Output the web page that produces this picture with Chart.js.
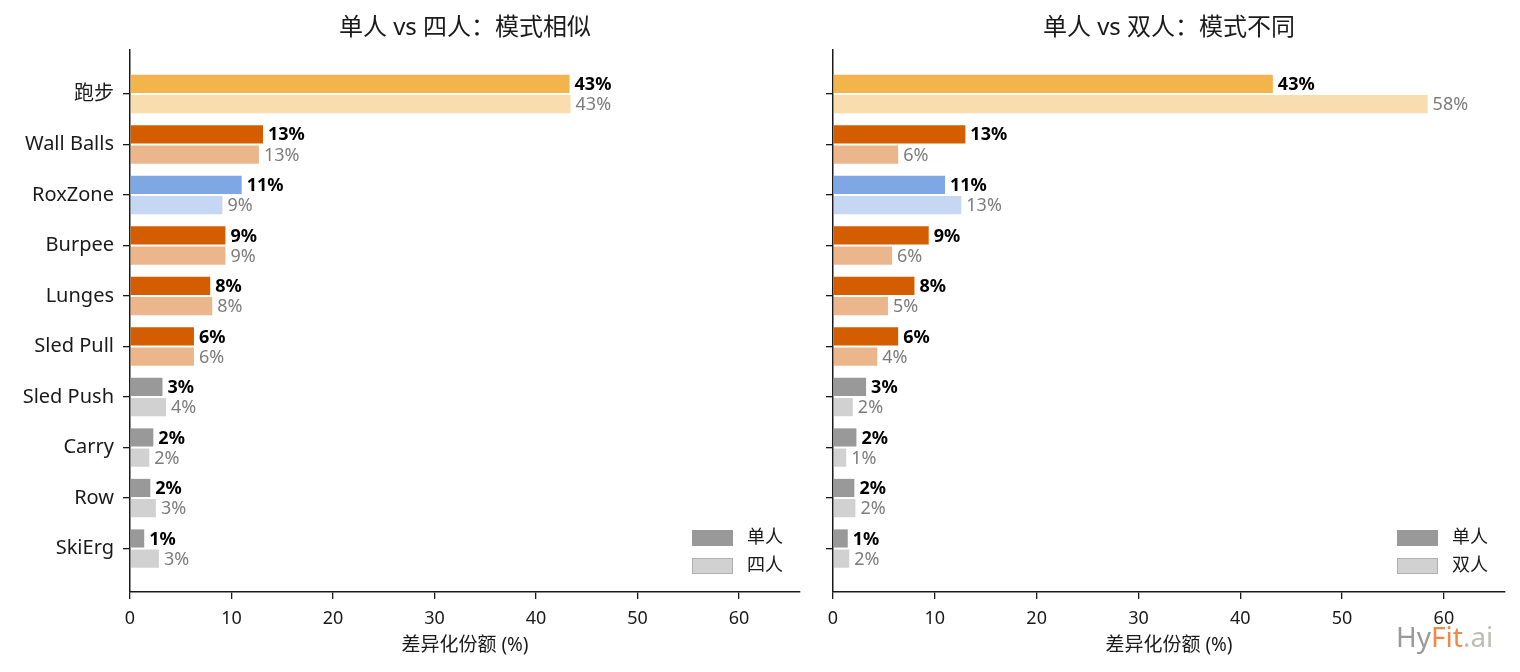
<!DOCTYPE html>
<html>
<head>
<meta charset="utf-8">
<script src="https://cdn.jsdelivr.net/npm/chart.js@4.4.1/dist/chart.umd.min.js"></script>
<style>
  body { margin: 0; background: #fff; }
  #wrap { position: relative; width: 1520px; height: 672px; }
  canvas { position: absolute; top: 0; }
</style>
</head>
<body>
<div id="wrap">
  <canvas id="leftChart" width="815" height="672" style="left:0"></canvas>
  <canvas id="rightChart" width="705" height="672" style="left:815px"></canvas>
</div>
<script>
// categories and values
const stations = ['跑步', 'Wall Balls', 'RoxZone', 'Burpee', 'Lunges', 'Sled Pull', 'Sled Push', 'Carry', 'Row', 'SkiErg'];
const soloLeft = [43.3, 13.1, 11.0, 9.4, 7.9, 6.3, 3.2, 2.3, 2.0, 1.4];
const quad = [43.4, 12.7, 9.1, 9.4, 8.1, 6.3, 3.55, 1.9, 2.55, 2.85];
const soloRight = [43.2, 13.0, 11.0, 9.4, 8.0, 6.4, 3.25, 2.3, 2.1, 1.45];
const duo = [58.4, 6.4, 12.6, 5.8, 5.4, 4.35, 1.95, 1.3, 2.2, 1.6];
const xTicks = [0, 10, 20, 30, 40, 50, 60];

const FONT = "'Noto Sans', 'Noto Sans CJK SC', sans-serif";
const INK = '#1a1a1a';

// colour per station: running gold, RoxZone blue, strength orange, short ones grey
function stationColor(name) {
  if (name === '跑步') return [244, 180, 76];
  if (name === 'RoxZone') return [127, 167, 227];
  if (['Sled Push', 'Carry', 'Row', 'SkiErg'].includes(name)) return [153, 153, 153];
  return [212, 93, 0];
}
const solidColors = stations.map(s => 'rgb(' + stationColor(s).join(',') + ')');
const lightColors = stations.map(s => 'rgba(' + stationColor(s).join(',') + ',0.45)');

const valueLabels = {
  id: 'valueLabels',
  afterDatasetsDraw(chart) {
    const ctx = chart.ctx;
    ctx.save();
    ctx.textBaseline = 'middle';
    ctx.textAlign = 'left';
    chart.data.datasets.forEach((ds, di) => {
      const meta = chart.getDatasetMeta(di);
      ctx.font = (di === 0 ? 'bold ' : '') + '18px ' + FONT;
      ctx.fillStyle = di === 0 ? '#000' : '#7d7d7d';
      meta.data.forEach((bar, i) => {
        ctx.fillText(Math.round(ds.data[i].x) + '%', bar.x + 5, bar.y + 1);
      });
    });
    ctx.restore();
  }
};

const decorations = {
  id: 'decorations',
  afterDraw(chart) {
    const ctx = chart.ctx;
    const area = chart.chartArea;
    const opts = chart.options.plugins.decorations;
    ctx.save();
    // panel title
    ctx.fillStyle = INK;
    ctx.textAlign = 'center';
    ctx.textBaseline = 'middle';
    ctx.font = '24px ' + FONT;
    ctx.fillText(opts.title, (area.left + area.right) / 2, 28);
    // x axis title
    ctx.font = '19px ' + FONT;
    ctx.fillText('差异化份额 (%)', (area.left + area.right) / 2, 646);
    // legend
    const lx = area.right - 108;
    ctx.fillStyle = 'rgb(153,153,153)';
    ctx.fillRect(lx, 530, 41, 16);
    ctx.fillStyle = 'rgba(153,153,153,0.45)';
    ctx.fillRect(lx, 558, 41, 16);
    ctx.strokeStyle = 'rgba(153,153,153,0.6)';
    ctx.lineWidth = 1;
    ctx.strokeRect(lx + 0.5, 558.5, 40, 15);
    ctx.fillStyle = INK;
    ctx.textAlign = 'left';
    ctx.font = '18px ' + FONT;
    ctx.fillText('单人', lx + 55, 538);
    ctx.fillText(opts.other, lx + 55, 566);
    // watermark
    if (opts.watermark) {
      ctx.font = '28px ' + FONT;
      ctx.textBaseline = 'alphabetic';
      let x = area.right - 109;
      const parts = [['Hy', '#9a9a9a'], ['Fit', '#f0884a'], ['.ai', '#bdbdb5']];
      parts.forEach(([t, c]) => {
        ctx.fillStyle = c;
        ctx.fillText(t, x, 647);
        x += ctx.measureText(t).width;
      });
    }
    ctx.restore();
  }
};

function makeChart(canvasId, solo, other, title, otherName, leftWidth, showNames, watermark) {
  const ctx = document.getElementById(canvasId).getContext('2d');
  return new Chart(ctx, {
    type: 'bar',
    data: {
      datasets: [
        {
          label: '单人',
          data: solo.map((v, i) => ({ x: v, y: i })),
          backgroundColor: solidColors
        },
        {
          label: otherName,
          data: other.map((v, i) => ({ x: v, y: i })),
          backgroundColor: lightColors
        }
      ]
    },
    options: {
      indexAxis: 'y',
      responsive: false,
      animation: false,
      categoryPercentage: 0.8,
      barPercentage: 0.9,
      layout: { padding: { top: 50, right: 15, left: 0, bottom: 0 } },
      plugins: {
        legend: { display: false },
        tooltip: { enabled: false },
        decorations: { title: title, other: otherName, watermark: watermark }
      },
      scales: {
        x: {
          type: 'linear',
          min: 0,
          max: 66,
          afterBuildTicks: axis => { axis.ticks = xTicks.map(v => ({ value: v })); },
          afterFit: scale => { scale.height = 80; },
          ticks: { color: INK, font: { size: 18, family: FONT }, padding: 9, maxRotation: 0 },
          grid: { display: true, drawOnChartArea: false, drawTicks: true, tickLength: 7, color: INK, lineWidth: 1.3 },
          border: { display: true, color: INK, width: 1.5 }
        },
        y: {
          type: 'linear',
          reverse: true,
          offset: false,
          min: -0.87,
          max: 9.86,
          afterBuildTicks: axis => { axis.ticks = stations.map((_, i) => ({ value: i })); },
          afterFit: scale => { scale.width = leftWidth; },
          ticks: {
            color: INK,
            font: { size: 20, family: FONT },
            padding: 9,
            callback: v => showNames ? stations[v] : ''
          },
          grid: { display: true, offset: false, drawOnChartArea: false, drawTicks: true, tickLength: 7, color: INK, lineWidth: 1.3 },
          border: { display: true, color: INK, width: 1.5 }
        }
      }
    },
    plugins: [valueLabels, decorations]
  });
}

makeChart('leftChart', soloLeft, quad, '单人 vs 四人：模式相似', '四人', 130, true, false);
makeChart('rightChart', soloRight, duo, '单人 vs 双人：模式不同', '双人', 18, false, true);
</script>
</body>
</html>
